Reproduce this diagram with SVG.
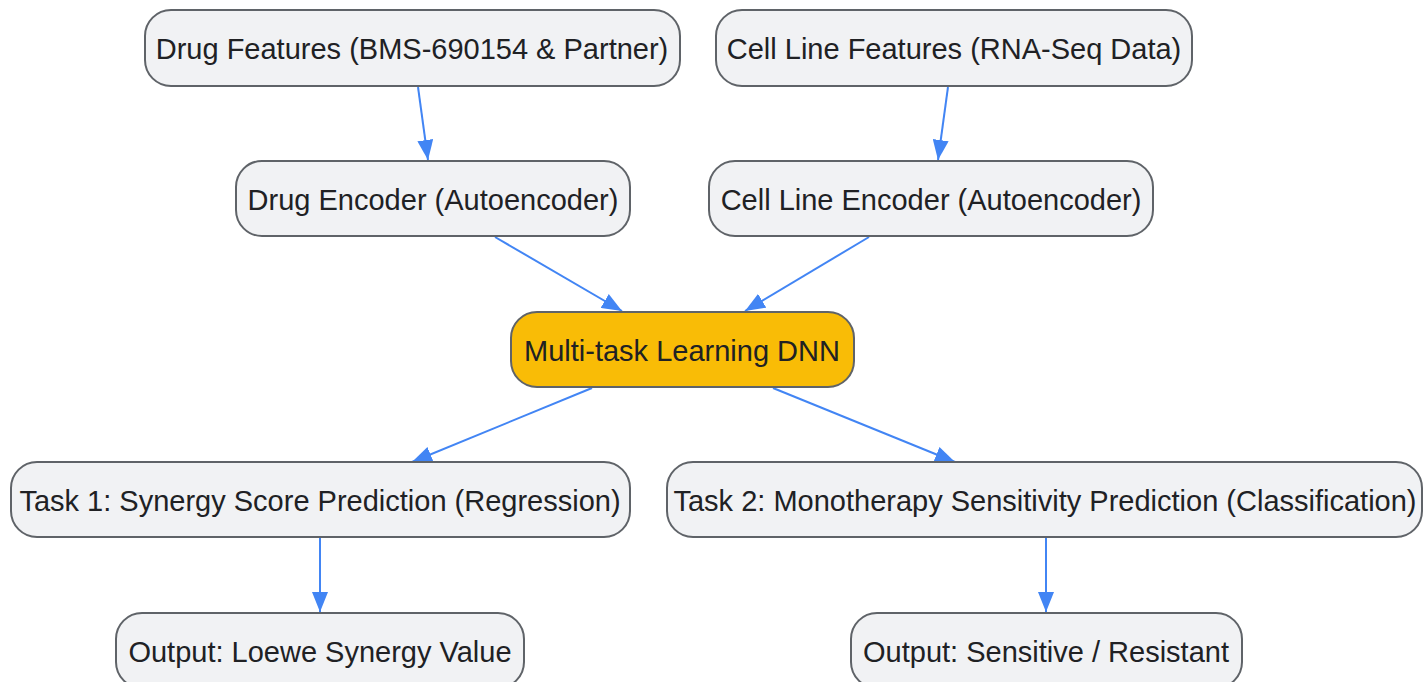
<svg xmlns="http://www.w3.org/2000/svg" width="1423" height="682" viewBox="0 0 1423 682">
<defs>
<style>
.n rect{fill:#F1F2F4;stroke:#5F6368;stroke-width:2}
.n.hl rect{fill:#F9BC06}
.n text{font-family:"Liberation Sans",Arial,sans-serif;font-size:29px;fill:#202124;text-anchor:middle;dominant-baseline:central}
.e line{stroke:#4285F4;stroke-width:2;fill:none}
</style>
<marker id="ah" markerUnits="userSpaceOnUse" markerWidth="22" markerHeight="16" refX="20" refY="8" orient="auto">
<path d="M0,0 L20,8 L0,16 Z" fill="#4285F4"/>
</marker>
</defs>
<rect width="1423" height="682" fill="#FFFFFF"/>
<g id="connectors" class="e">
<line x1="418" y1="87" x2="428" y2="160" marker-end="url(#ah)"/>
<line x1="948" y1="87" x2="938" y2="160" marker-end="url(#ah)"/>
<line x1="495" y1="237" x2="622" y2="311" marker-end="url(#ah)"/>
<line x1="869" y1="237" x2="745" y2="311" marker-end="url(#ah)"/>
<line x1="592" y1="388" x2="412" y2="462" marker-end="url(#ah)"/>
<line x1="773" y1="388" x2="955" y2="462" marker-end="url(#ah)"/>
<line x1="320" y1="538" x2="320" y2="612" marker-end="url(#ah)"/>
<line x1="1046" y1="538" x2="1046" y2="612" marker-end="url(#ah)"/>
</g>
<g id="drugFeatures" class="n"><rect x="145" y="10" width="535" height="76" rx="26"/><text x="412" y="49">Drug Features (BMS-690154 &amp; Partner)</text></g>
<g id="cellFeatures" class="n"><rect x="716" y="10" width="476" height="76" rx="26"/><text x="954" y="49">Cell Line Features (RNA-Seq Data)</text></g>
<g id="drugEncoder" class="n"><rect x="236" y="161" width="394" height="75" rx="26"/><text x="433" y="200">Drug Encoder (Autoencoder)</text></g>
<g id="cellEncoder" class="n"><rect x="709" y="161" width="444" height="75" rx="26"/><text x="931" y="200">Cell Line Encoder (Autoencoder)</text></g>
<g id="mtl" class="n hl"><rect x="511" y="312" width="343" height="75" rx="26"/><text x="682" y="351">Multi-task Learning DNN</text></g>
<g id="task1" class="n"><rect x="11" y="462" width="619" height="75" rx="26"/><text x="320" y="501">Task 1: Synergy Score Prediction (Regression)</text></g>
<g id="task2" class="n"><rect x="667" y="462" width="755" height="75" rx="26"/><text x="1045" y="501">Task 2: Monotherapy Sensitivity Prediction (Classification)</text></g>
<g id="out1" class="n"><rect x="116" y="613" width="408" height="75" rx="26"/><text x="320" y="652">Output: Loewe Synergy Value</text></g>
<g id="out2" class="n"><rect x="851" y="613" width="391" height="75" rx="26"/><text x="1046" y="652">Output: Sensitive / Resistant</text></g>
</svg>
